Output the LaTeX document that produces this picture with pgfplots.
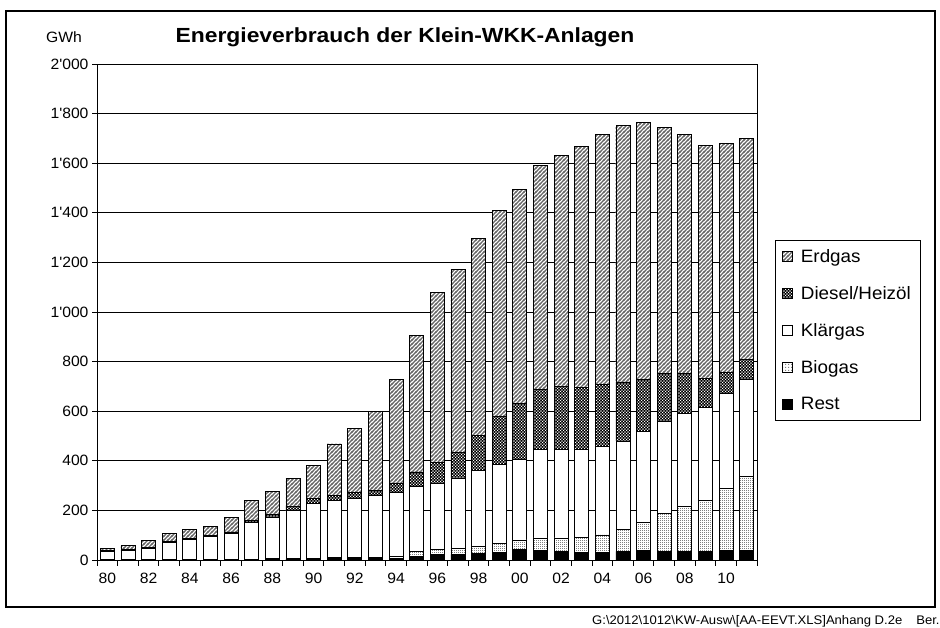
\documentclass[border=0pt]{standalone}
\usepackage{fontspec}
\setmainfont{Liberation Sans}[FakeStretch=1.05]
\newfontfamily\titlefont{Liberation Sans}[FakeStretch=1.12]
\newfontfamily\tickfont{Liberation Sans}[FakeStretch=1.05, Ligatures=TeXOff]
\usepackage{pgfplots}
\pgfplotsset{compat=1.18}
\usepackage{pgfplotstable}
\usetikzlibrary{patterns,patterns.meta}

\pgfdeclarepattern{name=hatchne, type=uncolored,
  bottom left={\pgfpoint{-0.1bp}{-0.1bp}}, top right={\pgfpoint{4.1bp}{4.1bp}},
  tile size={\pgfpoint{4bp}{4bp}},
  code={\pgfsetlinewidth{1.2bp}
    \pgfpathmoveto{\pgfpoint{-1bp}{-1bp}}\pgfpathlineto{\pgfpoint{5bp}{5bp}}
    \pgfpathmoveto{\pgfpoint{-1bp}{3bp}}\pgfpathlineto{\pgfpoint{1bp}{5bp}}
    \pgfpathmoveto{\pgfpoint{3bp}{-1bp}}\pgfpathlineto{\pgfpoint{5bp}{1bp}}
    \pgfusepath{stroke}}}
\pgfdeclarepattern{name=whitechecks, type=uncolored,
  bottom left={\pgfpoint{0bp}{0bp}}, top right={\pgfpoint{3.4bp}{3.4bp}},
  tile size={\pgfpoint{3.4bp}{3.4bp}},
  code={\pgfpathrectangle{\pgfpoint{0bp}{0bp}}{\pgfpoint{1.4bp}{1.4bp}}
    \pgfpathrectangle{\pgfpoint{1.7bp}{1.7bp}}{\pgfpoint{1.4bp}{1.4bp}}
    \pgfusepath{fill}}}
\pgfdeclarepattern{name=greydots, type=uncolored,
  bottom left={\pgfpoint{0bp}{0bp}}, top right={\pgfpoint{2.4bp}{2.4bp}},
  tile size={\pgfpoint{2.4bp}{2.4bp}},
  code={\pgfpathrectangle{\pgfpoint{0bp}{0bp}}{\pgfpoint{1.2bp}{1.2bp}}
    \pgfusepath{fill}}}

\pgfplotstableread{
x rest bio klaer diesel erdgas
0  1   0   35  3   8
1  1   0   37  3   19
2  1   0   47  4   26
3  2   0   68  4   32
4  2   0   80  5   36
5  3   0   92  5   35
6  3   0   104 6   58
7  4   0   148 8   79
8  4   1   166 13  91
9  5   2   193 16  112
10 5   2   222 19  135
11 6   3   230 20  209
12 6   4   237 24  258
13 7   5   248 20  318
14 7   8   257 39  416
15 15  18  262 60  552
16 22  20  269 81  686
17 22  25  284 104 737
18 25  31  304 143 794
19 32  36  317 193 832
20 42  39  324 225 864
21 40  49  357 243 901
22 34  55  357 254 932
23 30  62  354 251 970
24 30  71  358 249 1008
25 35  88  357 238 1033
26 38  115 367 207 1036
27 35  154 371 191 992
28 35  183 374 159 964
29 35  206 374 116 939
30 38  250 385 82  926
31 38  300 389 81  893
}\data

\pgfplotsset{sq/.style={legend image code/.code={\draw[##1,line width=0.7bp] (0bp,-5bp) rectangle (10bp,5bp);}}}

\begin{document}
\begin{tikzpicture}[x=1bp,y=1bp]
\useasboundingbox (0,0) rectangle (940,628);
\draw[line width=2.5bp] (6,21) rectangle (935,617);
\node[anchor=base west, inner sep=0pt, font=\fontsize{12.5}{14}\selectfont] at (592,3)
  {G:\textbackslash 2012\textbackslash 1012\textbackslash KW-Ausw\textbackslash[AA-EEVT.XLS]Anhang D.2e\hspace{14bp}Ber.};
\node[font=\titlefont\bfseries\fontsize{20.5}{24}\selectfont] at (405,591) {Energieverbrauch der Klein-WKK-Anlagen};
\node[font=\fontsize{15}{17}\selectfont] at (64,591) {GWh};
\begin{axis}[
  at={(97bp,68bp)}, anchor=south west, scale only axis,
  width=660bp, height=496bp,
  ybar stacked, bar width=0.68,
  xmin=-0.5, xmax=31.5, ymin=0, ymax=2000,
  axis line style={black, line width=0.8bp},
  tick align=outside, tick pos=left,
  major tick length=5bp, minor tick length=6bp,
  tick style={black, line width=0.8bp},
  every major x tick/.append style={draw=none},
  xtick={0,2,...,30},
  xticklabels={80,82,84,86,88,90,92,94,96,98,00,02,04,06,08,10},
  minor xtick={-0.5,0.5,...,31.5},
  ytick={0,200,...,2000},
  ymajorgrids,
  grid style={black, line width=0.8bp},
  /pgf/number format/assume math mode=true,
  /pgf/number format/1000 sep={'},
  ticklabel style={font=\tickfont\fontsize{15}{17}\selectfont},
  x tick label style={yshift=-5bp},
  reverse legend,
  legend style={at={(1.027,0.645)}, anchor=north west, draw=black, line width=0.8bp,
    font=\fontsize{18}{20}\selectfont, row sep=18.5bp, inner xsep=7bp, inner ysep=7bp,
    nodes={inner xsep=3bp},
    /tikz/every odd column/.append style={column sep=5bp}},
  legend cell align=left,
]
\addplot[fill=black, draw=black, line width=0.7bp, sq] table[x=x, y=rest] {\data};
\addplot[fill=white, draw=black, line width=0.7bp, postaction={pattern={greydots}, pattern color=black!50}, sq] table[x=x, y=bio] {\data};
\addplot[fill=white, draw=black, line width=0.7bp, sq] table[x=x, y=klaer] {\data};
\addplot[fill=black, draw=black, line width=0.7bp, postaction={pattern={whitechecks}, pattern color=white}, sq] table[x=x, y=diesel] {\data};
\addplot[fill=white, draw=black, line width=0.7bp, postaction={pattern={hatchne}, pattern color=black!60}, sq] table[x=x, y=erdgas] {\data};
\legend{Rest, Biogas, Klärgas, Diesel/Heizöl, Erdgas}
\end{axis}
\end{tikzpicture}
\end{document}
